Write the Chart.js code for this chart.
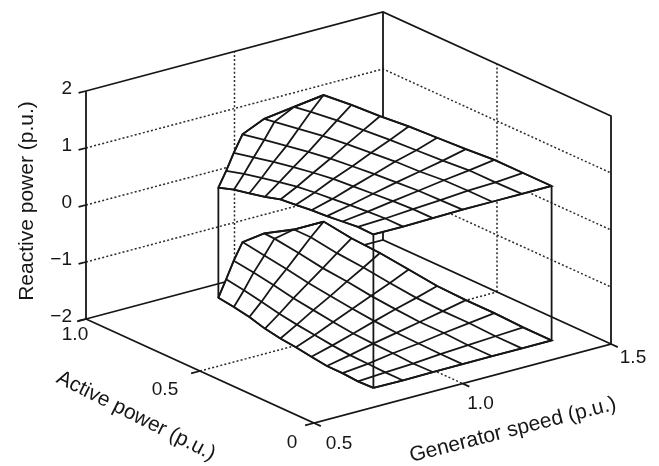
<!DOCTYPE html>
<html>
<head>
<meta charset="utf-8">
<script src="https://cdn.jsdelivr.net/npm/chart.js@4"></script>
<style>
  body { margin: 0; background: #fff; }
  canvas { display: block; }
</style>
</head>
<body>
<canvas id="myChart" width="659" height="466"></canvas>
<script>
// generator speed (p.u.), one row of the tables below for each
var speeds = [0.7, 0.8, 0.9, 1.0, 1.1, 1.2, 1.3];

// active power at each mesh node (p.u.), capped at 1
var powers = [
  [0, 0.068, 0.136, 0.204, 0.272, 0.34, 0.408, 0.476, 0.544, 0.612, 0.68],
  [0, 0.078, 0.155, 0.233, 0.31, 0.388, 0.466, 0.543, 0.621, 0.698, 0.776],
  [0, 0.087, 0.175, 0.262, 0.349, 0.437, 0.524, 0.611, 0.699, 0.786, 0.873],
  [0, 0.097, 0.193, 0.29, 0.386, 0.483, 0.579, 0.676, 0.772, 0.869, 0.965],
  [0, 0.106, 0.212, 0.318, 0.425, 0.531, 0.637, 0.743, 0.849, 0.955, 1],
  [0, 0.116, 0.232, 0.347, 0.463, 0.579, 0.695, 0.811, 0.926, 1, 1],
  [0, 0.125, 0.251, 0.376, 0.502, 0.627, 0.753, 0.878, 1, 1, 1]
];

// reactive power limits (p.u.)
var upperQ = [
  [1.03, 1.04, 1.01, 0.98, 0.96, 0.93, 0.90, 0.82, 0.76, 0.70, 0.61],
  [1.03, 1.03, 1.01, 0.98, 0.95, 0.92, 0.88, 0.82, 0.75, 0.68, 0.59],
  [1.04, 1.04, 1.02, 0.99, 0.96, 0.93, 0.88, 0.82, 0.75, 0.67, 0.59],
  [1.05, 1.04, 1.03, 1.00, 0.97, 0.93, 0.89, 0.83, 0.76, 0.69, 0.61],
  [1.05, 1.05, 1.04, 1.00, 0.98, 0.94, 0.90, 0.85, 0.78, 0.71, 0.68],
  [1.05, 1.04, 1.04, 1.00, 0.97, 0.94, 0.90, 0.86, 0.80, 0.75, 0.75],
  [1.05, 1.05, 1.05, 1.01, 0.98, 0.95, 0.90, 0.87, 0.82, 0.82, 0.82]
];
var lowerQ = [
  [-1.66, -1.67, -1.65, -1.65, -1.61, -1.57, -1.54, -1.49, -1.41, -1.36, -1.32],
  [-1.67, -1.67, -1.66, -1.65, -1.62, -1.58, -1.54, -1.49, -1.42, -1.36, -1.31],
  [-1.66, -1.67, -1.65, -1.64, -1.62, -1.58, -1.53, -1.48, -1.41, -1.35, -1.30],
  [-1.66, -1.66, -1.65, -1.64, -1.61, -1.57, -1.52, -1.47, -1.40, -1.34, -1.28],
  [-1.66, -1.66, -1.64, -1.64, -1.61, -1.57, -1.51, -1.47, -1.40, -1.34, -1.33],
  [-1.66, -1.66, -1.64, -1.64, -1.62, -1.57, -1.51, -1.47, -1.40, -1.40, -1.40],
  [-1.66, -1.66, -1.64, -1.64, -1.62, -1.56, -1.50, -1.47, -1.40, -1.40, -1.40]
];

var speedTicks = ["0.5", "1.0", "1.5"];
var powerTicks = ["0", "0.5", "1.0"];
var reactiveTicks = ["\u22122", "\u22121", "0", "1", "2"];

var titleSpeed = "Generator speed (p.u.)";
var titlePower = "Active power (p.u.)";
var titleReactive = "Reactive power (p.u.)";

var INK = "#161616";
var FONT = "Liberation Sans, Arial, sans-serif";

// oblique view of the (speed, power, reactive) box onto the page
function project(s, p, q) {
  return {
    x: 86 + 297 * (s - 0.5) + 228 * (1 - p),
    y: 319 - 79 * (s - 0.5) + 104 * (1 - p) - 57 * (q + 2)
  };
}

var datasets = [];
function addLine(pts, opts) {
  var ds = {
    data: pts.map(function (a) { return project(a[0], a[1], a[2]); }),
    showLine: true,
    pointRadius: 0,
    tension: 0,
    borderColor: INK,
    borderWidth: 1.8,
    fill: false
  };
  for (var k in opts) ds[k] = opts[k];
  datasets.push(ds);
}
var dotted = { borderDash: [2, 2.2], borderWidth: 1.5, borderColor: "#2a2a2a" };

// walls, floor and their grid
reactiveTicks.forEach(function (t, i) {
  var q = i - 2;
  if (q === -2 || q === 2) return;
  addLine([[0.5, 1, q], [1.5, 1, q], [1.5, 0, q]], dotted);
});
addLine([[1, 1, -2], [1, 1, 2]], dotted);
addLine([[1.5, 0.5, -2], [1.5, 0.5, 2]], dotted);
addLine([[1, 1, -2], [1, 0, -2]], dotted);
addLine([[0.5, 0.5, -2], [1.5, 0.5, -2]], dotted);

addLine([[0.5, 1, 2], [1.5, 1, 2], [1.5, 0, 2], [1.5, 0, -2], [0.5, 0, -2], [0.5, 1, -2], [0.5, 1, 2]], {});
addLine([[1.5, 1, 2], [1.5, 1, -2]], {});
addLine([[0.5, 1, -2], [1.5, 1, -2], [1.5, 0, -2]], {});

// tick marks
reactiveTicks.forEach(function (t, i) { addLine([[0.5, 1, i - 2], [0.475, 1, i - 2]], {}); });
powerTicks.forEach(function (t) { var p = parseFloat(t); addLine([[0.5, p, -2], [0.47, p, -2]], {}); });
speedTicks.forEach(function (t) { var s = parseFloat(t); addLine([[s, 0, -2], [s, -0.03, -2]], {}); });

function addSurface(qs) {
  var last = speeds.length - 1, n = powers[0].length - 1, i, k, edge = [];
  function node(i, k) { return [speeds[i], powers[i][k], qs[i][k]]; }
  for (k = 0; k <= n; k++) edge.push(node(0, k));
  for (i = 1; i <= last; i++) edge.push(node(i, n));
  for (k = n - 1; k >= 0; k--) edge.push(node(last, k));
  for (i = last - 1; i >= 0; i--) edge.push(node(i, 0));
  // white sheet so the mesh hides what is behind it
  addLine(edge, { fill: "shape", backgroundColor: "#fff" });
  for (i = 0; i <= last; i++) {
    var row = [];
    for (k = 0; k <= n; k++) row.push(node(i, k));
    addLine(row, {});
  }
  for (k = 0; k <= n; k++) {
    var col = [];
    for (i = 0; i <= last; i++) col.push(node(i, k));
    addLine(col, {});
  }
}

addSurface(lowerQ);
// corner posts joining the two surfaces
[[0, 10], [0, 0], [6, 0]].forEach(function (c) {
  var s = speeds[c[0]], p = powers[c[0]][c[1]];
  addLine([[s, p, lowerQ[c[0]][c[1]]], [s, p, upperQ[c[0]][c[1]]]], {});
});
addSurface(upperQ);

// later entries paint on top
datasets.forEach(function (d, i) { d.order = -i; });

var labelPlugin = {
  id: "axisText",
  afterDraw: function (chart) {
    var ctx = chart.ctx;
    function put(txt, x, y, align, angle, size) {
      ctx.save();
      ctx.translate(x, y);
      ctx.rotate((angle || 0) * Math.PI / 180);
      ctx.font = (size || 19) + "px " + FONT;
      ctx.fillStyle = INK;
      ctx.textAlign = align || "center";
      ctx.textBaseline = "middle";
      ctx.fillText(txt, 0, 0);
      ctx.restore();
    }
    reactiveTicks.forEach(function (t, i) {
      var a = project(0.5, 1, i - 2);
      put(t, 72, a.y - 2, "right");
    });
    var pOff = [[-22, 20], [-35, 19], [-11, 16]];
    powerTicks.forEach(function (t, i) {
      var a = project(0.5, parseFloat(t), -2);
      put(t, a.x + pOff[i][0], a.y + pOff[i][1]);
    });
    var sOff = [[25, 21], [18, 20], [22, 14]];
    speedTicks.forEach(function (t, i) {
      var a = project(parseFloat(t), 0, -2);
      put(t, a.x + sOff[i][0], a.y + sOff[i][1]);
    });
    put(titleReactive, 27, 201, "center", -90, 21);
    put(titlePower, 136, 416, "center", 26.8, 21);
    put(titleSpeed, 513, 430, "center", -14.4, 21);
  }
};

var chart = new Chart("myChart", {
  type: "scatter",
  data: { datasets: datasets },
  plugins: [labelPlugin],
  options: {
    responsive: false,
    animation: false,
    layout: { padding: 0 },
    plugins: { legend: { display: false }, tooltip: { enabled: false } },
    scales: {
      x: { type: "linear", min: 0, max: 659, display: false },
      y: { type: "linear", min: 0, max: 466, reverse: true, display: false }
    }
  }
});
</script>
</body>
</html>
